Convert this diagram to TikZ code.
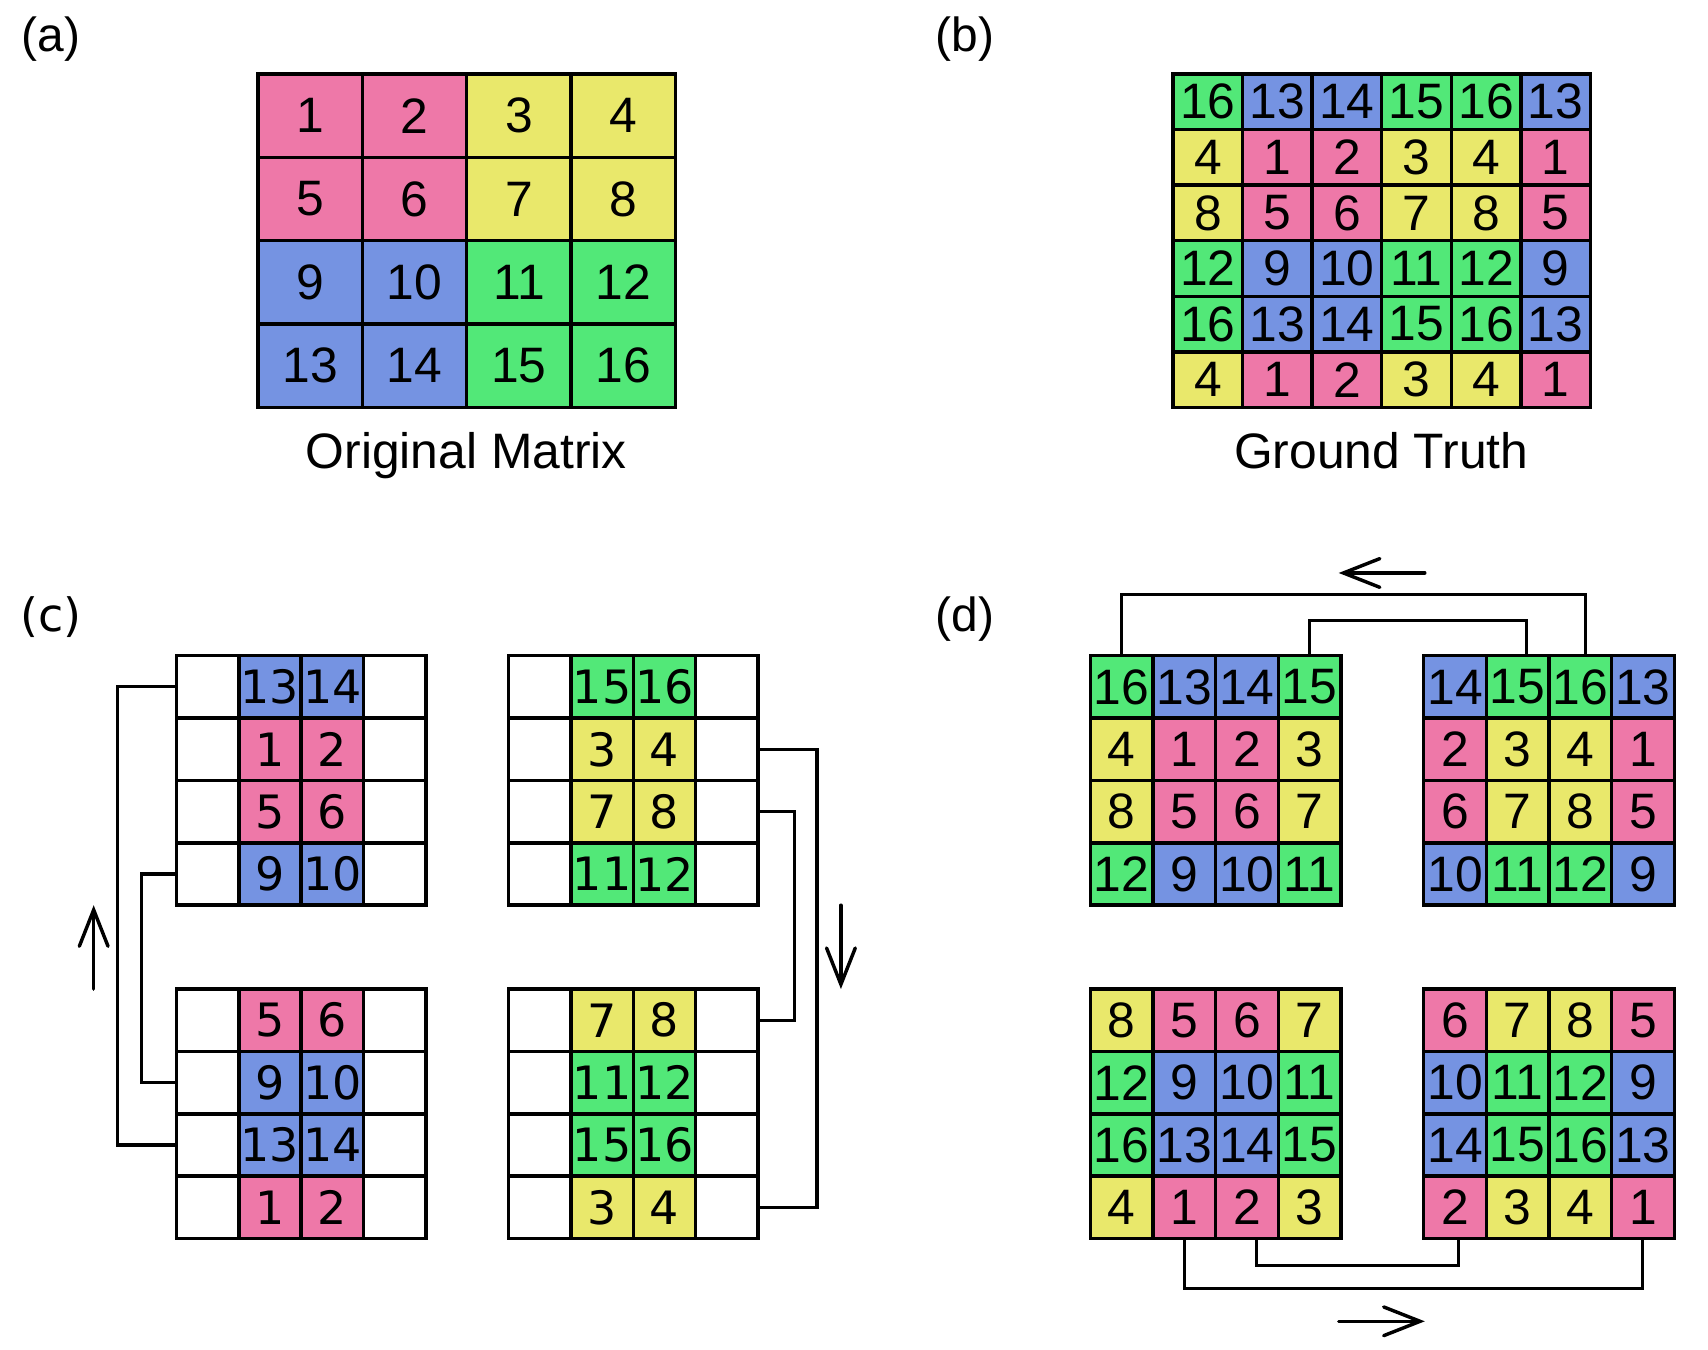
\documentclass[tikz,border=0pt]{standalone}
\usepackage{fontspec}
\setmainfont{Liberation Sans}
\newfontfamily\dejavu{DejaVu Sans}
\usepackage{xcolor}
\usepackage{tikz}
\usetikzlibrary{arrows.meta,positioning}

\definecolor{pk}{RGB}{238,120,168}
\definecolor{yl}{RGB}{233,232,107}
\definecolor{bl}{RGB}{117,147,226}
\definecolor{gr}{RGB}{82,232,120}
\definecolor{wh}{RGB}{255,255,255}

\begin{document}
\begin{tikzpicture}[x=0.01cm,y=-0.01cm,
    cell/.style={draw, line width=0.9pt, inner sep=0pt, outer sep=0pt, font=\fontsize{13}{13}\selectfont},
    acell/.style={cell, minimum width=0.9575cm, minimum height=0.765cm},
    bcell/.style={cell, minimum width=0.6383cm, minimum height=0.51cm},
    ccell/.style={cell, minimum width=0.5725cm, minimum height=0.5725cm, font=\dejavu\fontsize{12}{12}\selectfont},
    dcell/.style={cell, minimum width=0.575cm, minimum height=0.5725cm},
    link/.style={line width=0.8pt},
    dirarrow/.style={line width=0.9pt, line cap=round, -{Straight Barb[length=9.5pt,width=7.5pt,line cap=round]}},
    panel/.style={anchor=base, font=\fontsize{12.5}{12.5}\selectfont},
    caption/.style={anchor=base, font=\fontsize{13}{13}\selectfont}]
    \useasboundingbox (0,0) rectangle (1568,1239);

    % (a) original matrix
    \node[panel] (lbl-a) at (47,47) {(a)};
    \foreach \row [count=\r] in {{pk/1,pk/2,yl/3,yl/4},{pk/5,pk/6,yl/7,yl/8},{bl/9,bl/10,gr/11,gr/12},{bl/13,bl/14,gr/15,gr/16}}
      \foreach \clr/\val [count=\k] in \row
        \node[acell, fill=\clr] (a-\r-\k) at ({237+95.75*\k-47.875},{68+76.5*\r-38.25}) {\val};
    \node[caption] (cap-a) at (428,430) {Original Matrix};

    % (b) ground truth
    \node[panel] (lbl-b) at (886,47) {(b)};
    \foreach \row [count=\r] in {{gr/16,bl/13,bl/14,gr/15,gr/16,bl/13},{yl/4,pk/1,pk/2,yl/3,yl/4,pk/1},{yl/8,pk/5,pk/6,yl/7,yl/8,pk/5},{gr/12,bl/9,bl/10,gr/11,gr/12,bl/9},{gr/16,bl/13,bl/14,gr/15,gr/16,bl/13},{yl/4,pk/1,pk/2,yl/3,yl/4,pk/1}}
      \foreach \clr/\val [count=\k] in \row
        \node[bcell, fill=\clr] (b-\r-\k) at ({1077+63.833*\k-31.917},{68+51*\r-25.5}) {\val};
    \node[caption] (cap-b) at (1268,430) {Ground Truth};

    % (c)
    \node[panel, font=\dejavu\fontsize{12}{12}\selectfont] (lbl-c) at (47,580) {(c)};
    % top left
    \foreach \row [count=\r] in {{wh/{},bl/13,bl/14,wh/{}},{wh/{},pk/1,pk/2,wh/{}},{wh/{},pk/5,pk/6,wh/{}},{wh/{},bl/9,bl/10,wh/{}}}
      \foreach \clr/\val [count=\k] in \row
        \node[ccell, fill=\clr] (cTL-\r-\k) at ({162+57.25*\k-28.625},{602+57.25*\r-28.625}) {\val};
    % bottom left
    \foreach \row [count=\r] in {{wh/{},pk/5,pk/6,wh/{}},{wh/{},bl/9,bl/10,wh/{}},{wh/{},bl/13,bl/14,wh/{}},{wh/{},pk/1,pk/2,wh/{}}}
      \foreach \clr/\val [count=\k] in \row
        \node[ccell, fill=\clr] (cBL-\r-\k) at ({162+57.25*\k-28.625},{908+57.25*\r-28.625}) {\val};
    % top right
    \foreach \row [count=\r] in {{wh/{},gr/15,gr/16,wh/{}},{wh/{},yl/3,yl/4,wh/{}},{wh/{},yl/7,yl/8,wh/{}},{wh/{},gr/11,gr/12,wh/{}}}
      \foreach \clr/\val [count=\k] in \row
        \node[ccell, fill=\clr] (cTR-\r-\k) at ({467+57.25*\k-28.625},{602+57.25*\r-28.625}) {\val};
    % bottom right
    \foreach \row [count=\r] in {{wh/{},yl/7,yl/8,wh/{}},{wh/{},gr/11,gr/12,wh/{}},{wh/{},gr/15,gr/16,wh/{}},{wh/{},yl/3,yl/4,wh/{}}}
      \foreach \clr/\val [count=\k] in \row
        \node[ccell, fill=\clr] (cBR-\r-\k) at ({467+57.25*\k-28.625},{908+57.25*\r-28.625}) {\val};
    % links
    \draw[link] (cTL-1-1.west) -- ++(-54,0) |- (cBL-3-1.west);
    \draw[link] (cTL-4-1.west) -- ++(-32,0) |- (cBL-2-1.west);
    \draw[link] (cTR-2-4.east) -- ++(54,0) |- (cBR-4-4.east);
    \draw[link] (cTR-3-4.east) -- ++(33,0) |- (cBR-1-4.east);
    \draw[dirarrow] (86,908) -- (86,831);
    \draw[dirarrow] (772,831) -- (772,908);

    % (d)
    \node[panel] (lbl-d) at (886,580) {(d)};
    % top left
    \foreach \row [count=\r] in {{gr/16,bl/13,bl/14,gr/15},{yl/4,pk/1,pk/2,yl/3},{yl/8,pk/5,pk/6,yl/7},{gr/12,bl/9,bl/10,gr/11}}
      \foreach \clr/\val [count=\k] in \row
        \node[dcell, fill=\clr] (dTL-\r-\k) at ({1001+57.5*\k-28.75},{602+57.25*\r-28.625}) {\val};
    % top right
    \foreach \row [count=\r] in {{bl/14,gr/15,gr/16,bl/13},{pk/2,yl/3,yl/4,pk/1},{pk/6,yl/7,yl/8,pk/5},{bl/10,gr/11,gr/12,bl/9}}
      \foreach \clr/\val [count=\k] in \row
        \node[dcell, fill=\clr] (dTR-\r-\k) at ({1307+57.5*\k-28.75},{602+57.25*\r-28.625}) {\val};
    % bottom left
    \foreach \row [count=\r] in {{yl/8,pk/5,pk/6,yl/7},{gr/12,bl/9,bl/10,gr/11},{gr/16,bl/13,bl/14,gr/15},{yl/4,pk/1,pk/2,yl/3}}
      \foreach \clr/\val [count=\k] in \row
        \node[dcell, fill=\clr] (dBL-\r-\k) at ({1001+57.5*\k-28.75},{908+57.25*\r-28.625}) {\val};
    % bottom right
    \foreach \row [count=\r] in {{pk/6,yl/7,yl/8,pk/5},{bl/10,gr/11,gr/12,bl/9},{bl/14,gr/15,gr/16,bl/13},{pk/2,yl/3,yl/4,pk/1}}
      \foreach \clr/\val [count=\k] in \row
        \node[dcell, fill=\clr] (dBR-\r-\k) at ({1307+57.5*\k-28.75},{908+57.25*\r-28.625}) {\val};
    % links
    \draw[link] (dTL-1-1.north) -- ++(0,-56) -| ([xshift=1.3pt]dTR-1-3.north);
    \draw[link] (dTL-1-4.north) -- ++(0,-32) -| ([xshift=2.2pt]dTR-1-2.north);
    \draw[link] ([xshift=2.4pt]dBL-4-3.south) -- ++(0,25) -| ([xshift=1pt]dBR-4-1.south);
    \draw[link] (dBL-4-2.south) -- ++(0,46) -| (dBR-4-4.south);
    \draw[dirarrow] (1308,526) -- (1229,526);
    \draw[dirarrow] (1229,1213) -- (1308,1213);
\end{tikzpicture}
\end{document}
